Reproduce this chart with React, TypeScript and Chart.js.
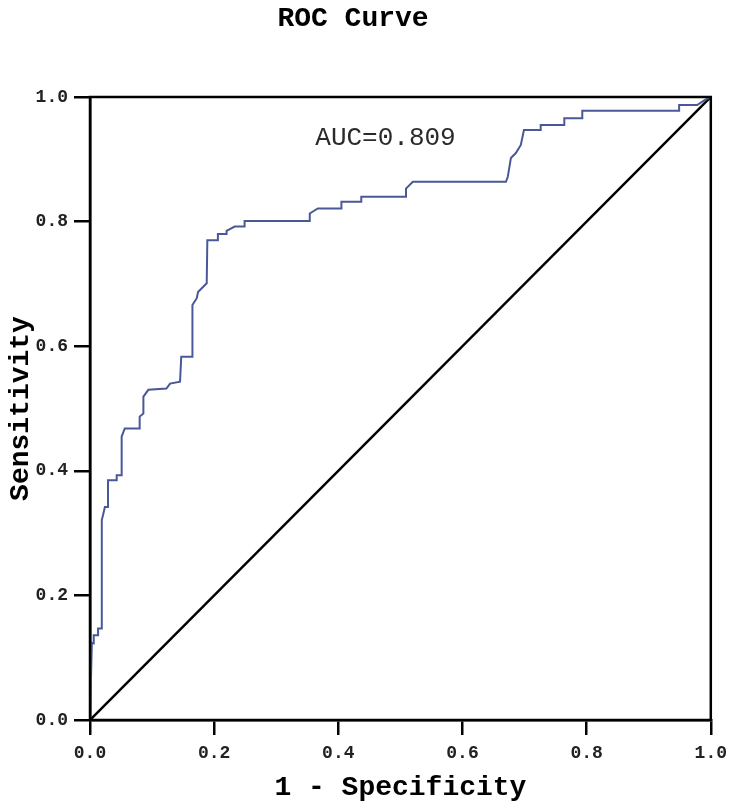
import React, { useEffect, useRef } from "react";
import { Chart, registerables } from "chart.js";

Chart.register(...registerables);

// ROC curve vertices (1 - specificity, sensitivity)
const fpr = [
  0, 0.003, 0.006, 0.006, 0.013, 0.013, 0.019, 0.019, 0.021, 0.024, 0.029, 0.029,
  0.043, 0.043, 0.051, 0.051, 0.056, 0.08, 0.08, 0.086, 0.086, 0.094, 0.123, 0.129,
  0.145, 0.147, 0.165, 0.165, 0.172, 0.174, 0.188, 0.189, 0.206, 0.206, 0.22, 0.22,
  0.233, 0.249, 0.249, 0.354, 0.354, 0.367, 0.405, 0.405, 0.437, 0.437, 0.509, 0.509,
  0.52, 0.67, 0.673, 0.678, 0.686, 0.694, 0.699, 0.726, 0.726, 0.764, 0.764, 0.793,
  0.793, 0.949, 0.949, 0.978, 0.99, 1,
];
const tpr = [
  0, 0.124, 0.123, 0.136, 0.136, 0.147, 0.147, 0.321, 0.329, 0.342, 0.342, 0.385,
  0.385, 0.393, 0.393, 0.455, 0.468, 0.468, 0.487, 0.492, 0.519, 0.53, 0.532, 0.54,
  0.543, 0.583, 0.583, 0.666, 0.677, 0.687, 0.701, 0.77, 0.77, 0.78, 0.78, 0.785,
  0.792, 0.792, 0.801, 0.801, 0.813, 0.821, 0.821, 0.832, 0.832, 0.84, 0.84, 0.853,
  0.864, 0.864, 0.872, 0.902, 0.91, 0.923, 0.947, 0.947, 0.955, 0.955, 0.966, 0.966,
  0.978, 0.978, 0.987, 0.987, 0.995, 1,
];
// Reference (chance) line
const refX = [0, 1];
const refY = [0, 1];
// Axis ticks
const tickValues = [0, 0.2, 0.4, 0.6, 0.8, 1.0];
// Annotation
const aucLabel = "AUC=0.809";
const aucPos = [0.476, 0.934];
const titleText = "ROC Curve";
const xTitle = "1 - Specificity";
const yTitle = "Sensitivity";

export default function App() {
  const ref = useRef<HTMLCanvasElement | null>(null);

  useEffect(() => {
    document.body.style.margin = "0";
    const canvas = ref.current;
    if (!canvas) return;

    const framePlugin = {
      id: "frameAndText",
      afterDatasetsDraw(chart: any) {
        const { ctx, chartArea, scales } = chart;
        ctx.save();
        ctx.strokeStyle = "#000";
        ctx.lineWidth = 2.5;
        ctx.strokeRect(chartArea.left, chartArea.top, chartArea.right - chartArea.left, chartArea.bottom - chartArea.top);
        ctx.fillStyle = "#2a2a2a";
        ctx.font = '26px "Liberation Mono"';
        ctx.textAlign = "center";
        ctx.textBaseline = "middle";
        ctx.fillText(aucLabel, scales.x.getPixelForValue(aucPos[0]), scales.y.getPixelForValue(aucPos[1]));
        ctx.fillStyle = "#000";
        ctx.font = 'bold 28px "Liberation Mono"';
        ctx.fillText(titleText, 353, 19);
        ctx.restore();
      },
    };

    const tickFont = { family: "Liberation Mono", size: 18, weight: "bold" as const };
    const titleFont = { family: "Liberation Mono", size: 28, weight: "bold" as const };

    const chart = new Chart(canvas, {
      type: "scatter",
      data: {
        datasets: [
          {
            data: fpr.map((x, i) => ({ x, y: tpr[i] })),
            showLine: true,
            borderColor: "#4a5898",
            borderWidth: 2,
            pointRadius: 0,
            tension: 0,
            clip: 4,
          } as any,
          {
            data: refX.map((x, i) => ({ x, y: refY[i] })),
            showLine: true,
            borderColor: "#000",
            borderWidth: 2.5,
            pointRadius: 0,
            tension: 0,
          } as any,
        ],
      },
      options: {
        responsive: false,
        animation: false,
        layout: { padding: { top: 97, right: 23, left: 0, bottom: 0 } },
        plugins: {
          legend: { display: false },
          tooltip: { enabled: false },
          title: { display: false },
        },
        scales: {
          x: {
            type: "linear",
            min: 0,
            max: 1,
            afterFit: (s: any) => {
              s.height = 88;
            },
            afterBuildTicks: (s: any) => {
              s.ticks = tickValues.map((v) => ({ value: v }));
            },
            ticks: {
              color: "#222",
              font: tickFont,
              padding: 8,
              maxRotation: 0,
              callback: (v: any) => Number(v).toFixed(1),
            },
            grid: {
              drawOnChartArea: false,
              drawTicks: true,
              tickLength: 15,
              color: "#000",
              lineWidth: 2.5,
            },
            border: { display: true, color: "#000", width: 2.5 },
            title: {
              display: true,
              text: xTitle,
              color: "#000",
              font: titleFont,
              padding: { top: 0, bottom: 3 },
            },
          },
          y: {
            type: "linear",
            min: 0,
            max: 1,
            afterFit: (s: any) => {
              s.width = 90;
            },
            afterBuildTicks: (s: any) => {
              s.ticks = tickValues.map((v) => ({ value: v }));
            },
            ticks: {
              color: "#222",
              font: tickFont,
              padding: 6,
              callback: (v: any) => Number(v).toFixed(1),
            },
            grid: {
              drawOnChartArea: false,
              drawTicks: true,
              tickLength: 16,
              color: "#000",
              lineWidth: 2.5,
            },
            border: { display: true, color: "#000", width: 2.5 },
            title: {
              display: true,
              text: yTitle,
              color: "#000",
              font: titleFont,
              padding: { top: 4, bottom: 0 },
            },
          },
        },
      },
      plugins: [framePlugin],
    });

    return () => chart.destroy();
  }, []);

  return (
    <div style={{ width: 735, height: 808 }}>
      <canvas ref={ref} width={735} height={808} />
    </div>
  );
}
